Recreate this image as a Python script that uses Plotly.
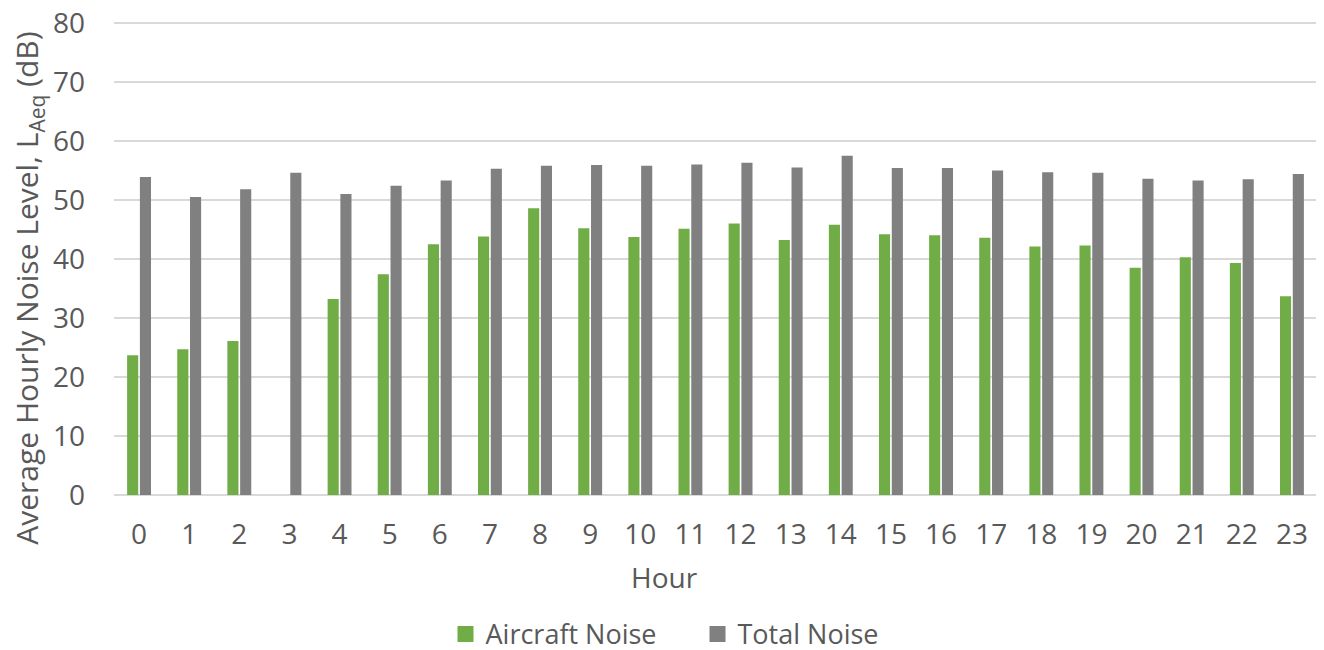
import plotly.graph_objects as go

hours = [str(h) for h in range(24)]
aircraft_noise = [23.7, 24.7, 26.1, 0, 33.2, 37.4, 42.5, 43.8, 48.6, 45.2, 43.7, 45.1,
                  46.0, 43.2, 45.8, 44.2, 44.0, 43.6, 42.1, 42.3, 38.5, 40.3, 39.3, 33.7]
total_noise = [53.9, 50.5, 51.8, 54.6, 51.0, 52.4, 53.3, 55.3, 55.8, 55.9, 55.8, 56.0,
               56.3, 55.5, 57.5, 55.4, 55.4, 55.0, 54.7, 54.6, 53.6, 53.3, 53.5, 54.4]
y_ticks = [0, 10, 20, 30, 40, 50, 60, 70, 80]

FONT = "Open Sans"
TXT = "#595959"
GREEN = "#70ad47"
GREY = "#808080"

# page body has an 8px default margin, so the figure is drawn offset by 8px
OFF = 8
FIG_W, FIG_H = 1324, 650
PL, PB = 114, 494.7          # plot-area left / bottom in window pixels
PW = 1203                    # plot-area width
UNIT = 5.9                   # pixels per dB
YMAX = 81
PH = YMAX * UNIT             # plot-area height
L = PL - OFF
R = FIG_W - PW - L
B = FIG_H - (PB - OFF)
T = FIG_H - B - PH

fig = go.Figure()
fig.add_trace(go.Bar(x=hours, y=aircraft_noise, name="Aircraft Noise", showlegend=False,
                     marker=dict(color=GREEN, line=dict(width=0))))
fig.add_trace(go.Bar(x=hours, y=total_noise, name="Total Noise", showlegend=False,
                     marker=dict(color=GREY, line=dict(width=0))))
for nm, col in [("Aircraft Noise", GREEN), ("Total Noise", GREY)]:
    fig.add_trace(go.Scatter(x=[None], y=[None], mode="markers", name=nm,
                             marker=dict(symbol="square", size=17, color=col)))

fig.update_layout(
    width=FIG_W, height=FIG_H,
    margin=dict(l=L, r=R, t=T, b=B, autoexpand=False),
    paper_bgcolor="white", plot_bgcolor="white",
    barmode="group", bargap=0.49, bargroupgap=0.13,
    font=dict(family=FONT, color=TXT, size=24),
    showlegend=True,
    legend=dict(orientation="h", x=(470.5 - 25 - PL) / PW, xanchor="left",
                y=(PB - 634) / PH, yanchor="middle",
                font=dict(size=27, color=TXT), itemsizing="trace", traceorder="normal",
                bgcolor="rgba(0,0,0,0)", entrywidthmode="pixels", entrywidth=207),
    xaxis=dict(type="category", showgrid=False, showline=False, ticks="",
               tickfont=dict(size=28, color=TXT), ticklabelstandoff=20,
               automargin=False),
    yaxis=dict(range=[0, YMAX], tickvals=y_ticks, showgrid=True, gridcolor="#d9d9d9",
               gridwidth=1.5, zeroline=True, zerolinecolor="#d9d9d9", zerolinewidth=1.5,
               showline=False, ticks="", tickfont=dict(size=28, color=TXT),
               ticklabelstandoff=28, ticklabeloverflow="allow", automargin=False),
    annotations=[
        dict(text="Hour", xref="paper", yref="paper",
             x=(664.5 - PL) / PW, y=(PB - 577) / PH,
             xanchor="center", yanchor="middle", showarrow=False,
             font=dict(size=28, color=TXT, family=FONT)),
        dict(text="Average Hourly Noise Level, L<sub>Aeq</sub> (dB)", xref="paper", yref="paper",
             x=(28 - PL) / PW, y=(PB - 288.5) / PH, textangle=-90,
             xanchor="center", yanchor="middle", showarrow=False,
             font=dict(size=30, color=TXT, family=FONT)),
    ],
)

fig.write_html("out.html")
